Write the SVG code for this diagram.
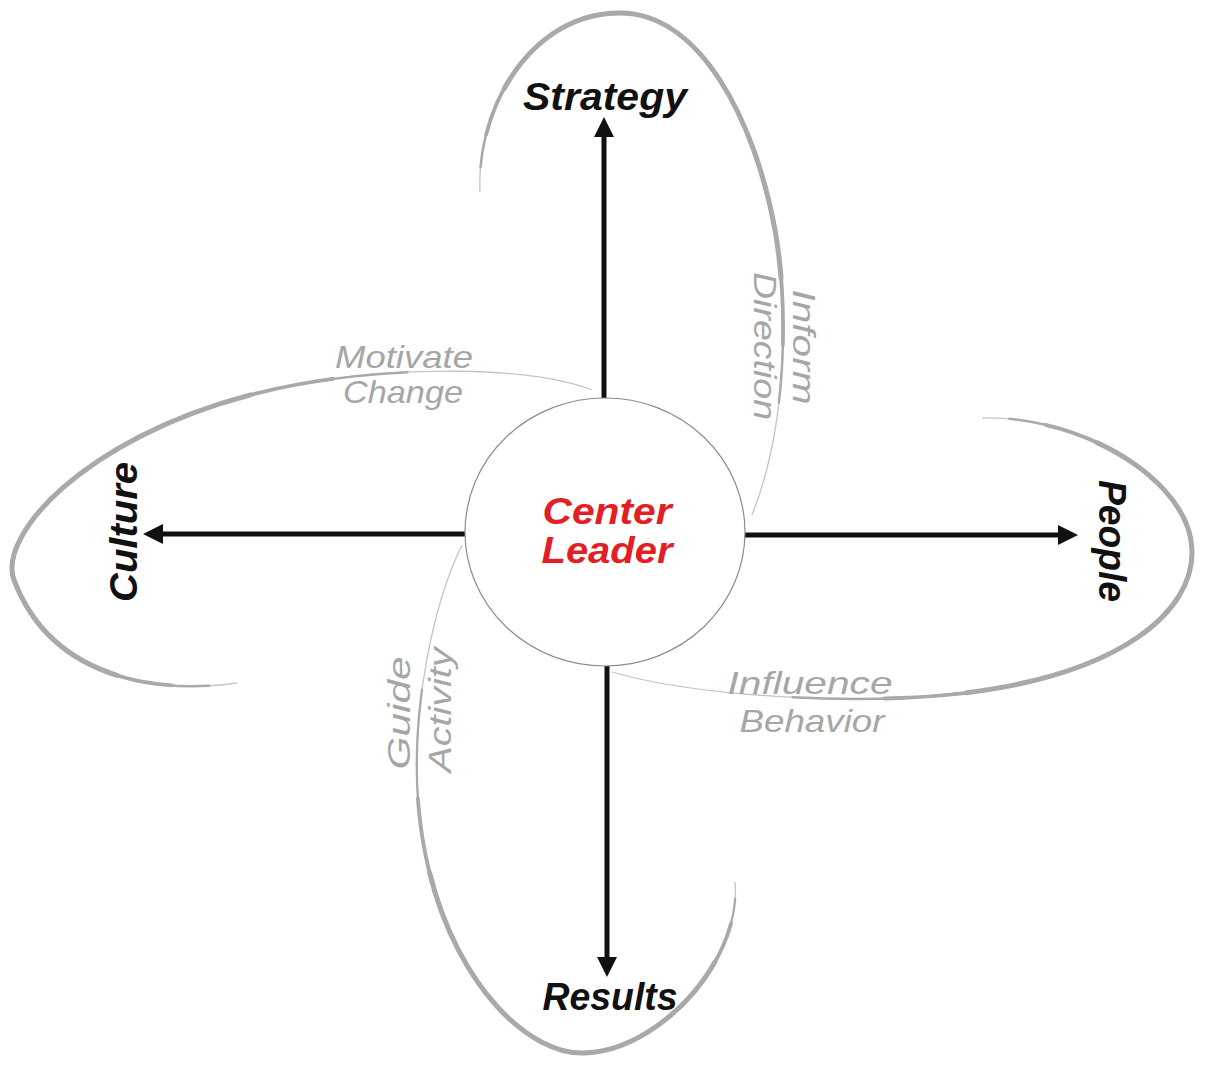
<svg xmlns="http://www.w3.org/2000/svg" width="1205" height="1080" viewBox="0 0 1205 1080">
  <defs>
    <marker id="head" markerUnits="userSpaceOnUse" markerWidth="20" markerHeight="20" refX="0" refY="10" orient="auto">
      <path d="M0,0 L20,10 L0,20 z" fill="#111"/>
    </marker>
    <path id="p-top" pathLength="100" d="M480 192 C476 110 530 13 620 13 C700 13 755 120 775 230 C787 296 790 420 752 515"/>
    <path id="p-left" pathLength="100" d="M237 683 C150 695 50 675 14 580 C-4 532 100 420 300 384 C400 366 530 366 592 390"/>
    <path id="p-right" pathLength="100" d="M982 418 C1080 415 1190 480 1192 550 C1194 620 1100 690 900 698 C800 702 680 692 612 672"/>
    <path id="p-bottom" pathLength="100" d="M735 882 C742 960 660 1050 585 1053 C520 1056 430 960 418 800 C411 704 435 600 462 545"/>
  </defs>
  <style>
    .petal { fill: none; stroke: #a9a9a9; stroke-linecap: round; }
    .tail { fill: none; stroke: #c4c4c4; stroke-width: 1.3; }
    .arrow { fill: none; stroke: #111; stroke-width: 5; marker-end: url(#head); }
    .hub { fill: #fff; stroke: #8c8c8c; stroke-width: 1.2; }
    .main { font-family: "Liberation Sans", Arial, sans-serif; font-style: italic; font-weight: bold; font-size: 38px; fill: #111; text-anchor: middle; }
    .center { font-family: "Liberation Sans", Arial, sans-serif; font-style: italic; font-weight: bold; font-size: 36px; fill: #e31e24; text-anchor: middle; }
    .note { font-family: "Liberation Sans", Arial, sans-serif; font-style: italic; font-size: 32px; fill: #a6a6a6; text-anchor: middle; }
  </style>
  <rect width="1205" height="1080" fill="#fff"/>

  <g id="connectors">
    <g id="petal-strategy">
      <use href="#p-top" class="tail"/>
      <use href="#p-top" class="petal" style="stroke-width:2.5;stroke-dasharray:83 200;stroke-dashoffset:-3"/>
      <use href="#p-top" class="petal" style="stroke-width:3.8;stroke-dasharray:72 200;stroke-dashoffset:-7"/>
      <use href="#p-top" class="petal" style="stroke-width:5;stroke-dasharray:58 200;stroke-dashoffset:-13"/>
    </g>
    <g id="petal-culture">
      <use href="#p-left" class="tail"/>
      <use href="#p-left" class="petal" style="stroke-width:2.5;stroke-dasharray:77 200;stroke-dashoffset:-3"/>
      <use href="#p-left" class="petal" style="stroke-width:3.8;stroke-dasharray:65 200;stroke-dashoffset:-7"/>
      <use href="#p-left" class="petal" style="stroke-width:5;stroke-dasharray:50 200;stroke-dashoffset:-13"/>
    </g>
    <g id="petal-people">
      <use href="#p-right" class="tail"/>
      <use href="#p-right" class="petal" style="stroke-width:2.5;stroke-dasharray:77 200;stroke-dashoffset:-3"/>
      <use href="#p-right" class="petal" style="stroke-width:3.8;stroke-dasharray:63 200;stroke-dashoffset:-7"/>
      <use href="#p-right" class="petal" style="stroke-width:5;stroke-dasharray:48 200;stroke-dashoffset:-13"/>
    </g>
    <g id="petal-results">
      <use href="#p-bottom" class="tail"/>
      <use href="#p-bottom" class="petal" style="stroke-width:2.3;stroke-dasharray:80 200;stroke-dashoffset:-2"/>
      <use href="#p-bottom" class="petal" style="stroke-width:3.8;stroke-dasharray:64 200;stroke-dashoffset:-5"/>
      <use href="#p-bottom" class="petal" style="stroke-width:5;stroke-dasharray:50 200;stroke-dashoffset:-10"/>
    </g>
    <line id="arrow-strategy" class="arrow" x1="604" y1="398" x2="604" y2="137"/>
    <line id="arrow-culture" class="arrow" x1="465" y1="534" x2="163" y2="534"/>
    <line id="arrow-people" class="arrow" x1="745" y1="535" x2="1058" y2="535"/>
    <line id="arrow-results" class="arrow" x1="607" y1="665" x2="607" y2="957"/>
  </g>

  <g id="node-center">
    <ellipse class="hub" cx="605" cy="532" rx="140" ry="134"/>
    <text class="center" x="607" y="524" textLength="129" lengthAdjust="spacingAndGlyphs">Center</text>
    <text class="center" x="607" y="563" textLength="131" lengthAdjust="spacingAndGlyphs">Leader</text>
  </g>

  <g id="node-strategy">
    <text class="main" x="605" y="110" font-size="40" textLength="164" lengthAdjust="spacingAndGlyphs">Strategy</text>
  </g>
  <g id="node-culture">
    <text class="main" transform="translate(137 532) rotate(-90)" x="0" y="0" textLength="140" lengthAdjust="spacingAndGlyphs">Culture</text>
  </g>
  <g id="node-people">
    <text class="main" transform="translate(1099 541) rotate(90)" x="0" y="0" font-size="36" textLength="122" lengthAdjust="spacingAndGlyphs">People</text>
  </g>
  <g id="node-results">
    <text class="main" x="610" y="1010" textLength="135" lengthAdjust="spacingAndGlyphs">Results</text>
  </g>

  <g id="label-inform-direction">
    <text class="note" transform="translate(793 347) rotate(90)" x="0" y="0" textLength="115" lengthAdjust="spacingAndGlyphs">Inform</text>
    <text class="note" transform="translate(754 346) rotate(90)" x="0" y="0" textLength="148" lengthAdjust="spacingAndGlyphs">Direction</text>
  </g>
  <g id="label-motivate-change">
    <text class="note" x="404" y="368" textLength="138" lengthAdjust="spacingAndGlyphs">Motivate</text>
    <text class="note" x="403" y="403" textLength="120" lengthAdjust="spacingAndGlyphs">Change</text>
  </g>
  <g id="label-influence-behavior">
    <text class="note" x="810" y="694" textLength="165" lengthAdjust="spacingAndGlyphs">Influence</text>
    <text class="note" x="812" y="732" textLength="145" lengthAdjust="spacingAndGlyphs">Behavior</text>
  </g>
  <g id="label-guide-activity">
    <text class="note" transform="translate(410 713) rotate(-90)" x="0" y="0" textLength="113" lengthAdjust="spacingAndGlyphs">Guide</text>
    <text class="note" transform="translate(451 710) rotate(-90)" x="0" y="0" textLength="125" lengthAdjust="spacingAndGlyphs">Activity</text>
  </g>
</svg>
